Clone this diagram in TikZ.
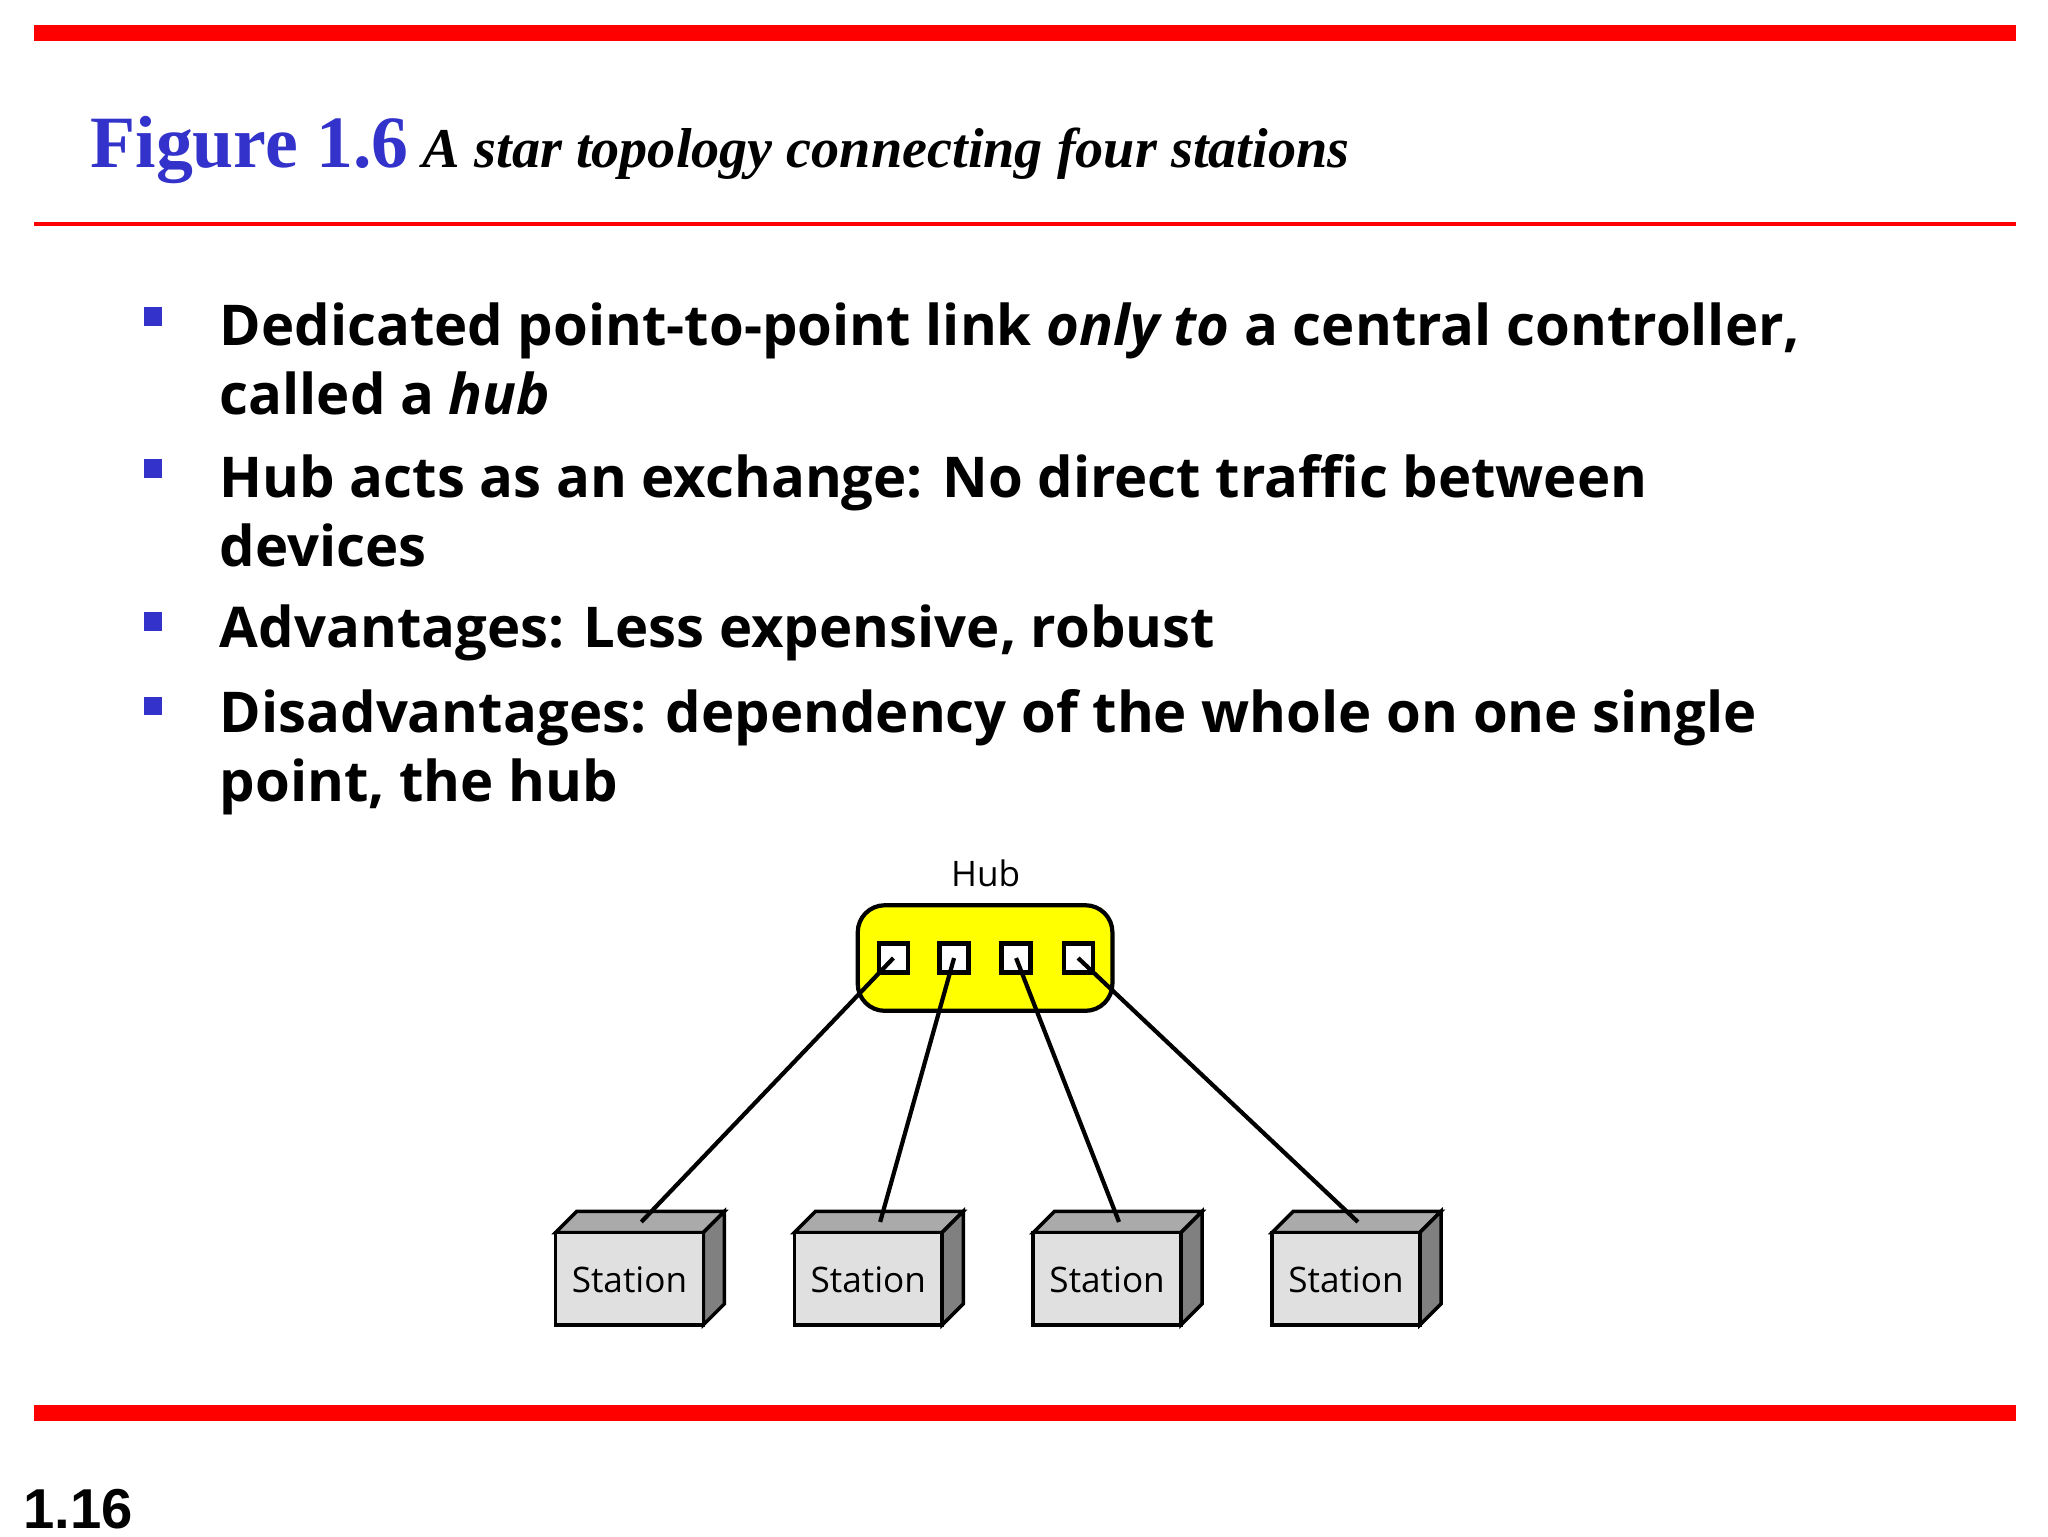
\documentclass[tikz,border=0pt]{standalone}
\usepackage{fontspec}
\setmainfont{Liberation Serif}
\newfontfamily\osans{Open Sans}
\newfontfamily\lsans{Liberation Sans}
\definecolor{tblue}{RGB}{51,51,204}
\definecolor{sred}{RGB}{255,0,0}
\definecolor{hubyel}{RGB}{255,255,0}
\definecolor{front}{RGB}{224,224,224}
\definecolor{side}{RGB}{128,128,128}
\definecolor{topf}{RGB}{170,170,170}
\begin{document}
\begin{tikzpicture}[x=0.0132cm,y=-0.0132cm,
  bul/.style={anchor=base west,inner sep=0,font=\osans\bfseries\fontsize{16}{19.5}\selectfont},
  sq/.style={fill=tblue},
  port/.style={draw,fill=white,line width=1.2pt,minimum size=0.29cm,inner sep=0},
  link/.style={line width=1.2pt},
  stlab/.style={font=\osans\fontsize{10}{12}\selectfont,inner sep=0}]
\useasboundingbox (0,0) rectangle (1552,1164);
\fill[sred] (26,19) rectangle (1528,31);
\fill[sred] (26,168.5) rectangle (1528,171.5);
\fill[sred] (26,1065) rectangle (1528,1077);
\node[anchor=base west,inner sep=0,text=tblue,font=\bfseries\fontsize{21}{24}\selectfont] (fig) at (68,127) {Figure 1.6};
\node[anchor=base west,inner sep=0,font=\bfseries\itshape\fontsize{16}{20}\selectfont] (cap) at (320,127) {A star topology connecting four stations};
\foreach \y in {240,355,471,535} \fill[sq] (109,\y-7) rectangle (123,\y+7);
\node[bul] (b1) at (166,262) {Dedicated point-to-point link \textit{only to} a central controller,};
\node[bul] (b1b) at (166,314) {called a \textit{hub}};
\node[bul] (b2) at (166,377) {Hub acts as an exchange: No direct traffic between};
\node[bul] (b2b) at (166,429) {devices};
\node[bul] (b3) at (166,491) {Advantages: Less expensive, robust};
\node[bul] (b4) at (166,555) {Disadvantages: dependency of the whole on one single};
\node[bul] (b4b) at (166,607) {point, the hub};
% hub
\draw[fill=hubyel,line width=1.2pt,rounded corners=0.27cm] (650,686) rectangle (843,766);
\node[stlab] (hublab) at (747,662) {Hub};
\foreach \i/\x in {1/677,2/723,3/770,4/817} \node[port] (p\i) at (\x,726) {};
% stations
\foreach \i/\x in {1/421,2/602,3/783,4/964}{
  \draw[fill=topf,line width=1pt] (\x,934) -- (\x+16,918) -- (\x+128,918) -- (\x+112,934) -- cycle;
  \draw[fill=side,line width=1pt] (\x+112,934) -- (\x+128,918) -- (\x+128,988) -- (\x+112,1004) -- cycle;
  \draw[fill=front,line width=1pt] (\x,934) rectangle (\x+112,1004);
  \node[stlab] (s\i) at (\x+56,970) {Station};
  \coordinate (t\i) at (\x+65,926);
}
\foreach \i in {1,...,4} \draw[link] (p\i.center) -- (t\i);
\node[anchor=base west,inner sep=0,font=\lsans\bfseries\fontsize{16}{19}\selectfont] (pg) at (17,1158) {1.16};
\end{tikzpicture}
\end{document}
